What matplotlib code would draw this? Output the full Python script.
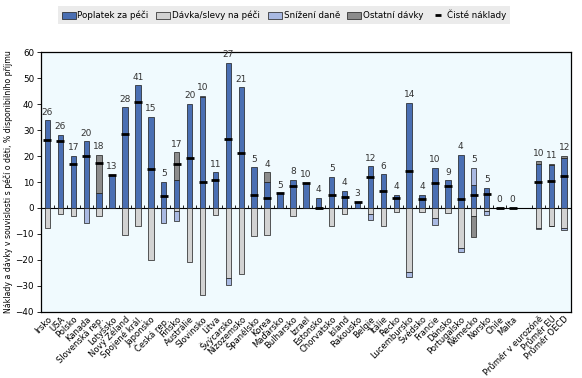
import numpy as np
import matplotlib
matplotlib.use("Agg")
import matplotlib.pyplot as plt
from matplotlib.patches import Patch
from matplotlib.lines import Line2D

# categories (countries, then averages after a gap)
countries = ["Irsko", "USA", "Polsko", "Kanada", "Slovenská rep.", "Lotyšsko",
             "Nový Zéland", "Spojené král.", "Japonsko", "Česká rep.", "Finsko",
             "Austrálie", "Slovinsko", "Litva", "Švýcarsko", "Nizozemsko",
             "Španělsko", "Korea", "Maďarsko", "Bulharsko", "Izrael", "Estonsko",
             "Chorvatsko", "Island", "Rakousko", "Belgie", "Itálie", "Řecko",
             "Lucembursko", "Švédsko", "Francie", "Dánsko", "Portugalsko",
             "Německo", "Norsko", "Chile", "Malta"]
averages = ["Průměr v eurozóně", "Průměr EU", "Průměr OECD"]

# Poplatek za péči (fees)
fee = [33.7, 28.0, 19.9, 25.6, 5.6, 12.8, 38.7, 47.2, 34.9, 9.9, 10.9,
       40.0, 42.7, 13.7, 56.0, 46.4, 15.6, 9.9, 5.6, 10.9, 9.7, 3.8,
       11.8, 6.4, 2.4, 16.0, 12.9, 4.9, 40.6, 4.9, 15.3, 10.6, 20.3,
       8.7, 7.6, 0.0, 0.0,
       17.1, 16.7, 19.2]
# Dávky/slevy na péči
benefit = [-7.7, -2.3, -3.2, 0.0, -3.2, 0.0, -10.5, -6.8, -20.1, 0.0, -1.0,
           -20.9, -33.5, -2.8, -26.9, -25.6, -10.9, -10.4, 0.0, -3.2, 0.0, 0.0,
           -7.1, -2.3, 0.0, -2.2, -7.1, -1.5, -24.6, -1.7, -4.0, -2.0, -15.5,
           -3.2, -1.2, 0.0, 0.0,
           -7.9, -6.8, -7.7]
# Snížení daně
tax = [0.0, 0.0, 0.0, -5.7, 0.0, 0.0, 0.0, 0.0, 0.0, -5.8, -4.1,
       0.0, 0.5, 0.0, -2.8, 0.0, 0.0, 0.0, 0.0, 0.0, 0.0, 0.0,
       0.0, 0.0, 0.0, -2.5, 0.0, 0.0, -2.1, 0.0, -2.4, 0.0, -1.5,
       6.6, -1.5, 0.0, 0.0,
       -0.3, -0.2, -0.6]
# Ostatní dávky
other = [0.0, 0.0, 0.0, 0.0, 14.7, 0.0, 0.0, 0.0, 0.0, 0.0, 10.5,
         0.0, 0.0, 0.0, 0.0, 0.0, 0.0, 3.8, 0.0, 0.0, 0.0, 0.0,
         0.0, 0.0, 0.0, 0.0, 0.0, 0.0, 0.0, 0.0, 0.0, 0.0, 0.0,
         -8.1, 0.0, 0.0, 0.0,
         0.8, 0.3, 0.9]
# Čisté náklady
net = [26.3, 25.9, 17.0, 20.1, 17.3, 12.8, 28.5, 41.0, 15.1, 4.7, 17.0,
       19.4, 10.0, 10.9, 26.7, 21.3, 5.1, 4.0, 5.6, 8.6, 9.7, 0.0,
       5.1, 4.2, 2.4, 11.8, 6.4, 4.0, 14.4, 3.6, 9.7, 8.6, 3.6,
       4.9, 5.5, 0.0, 0.0,
       10.1, 10.5, 12.4]
net_labels = ["26", "26", "17", "20", "18", "13", "28", "41", "15", "5", "17",
              "20", "10", "11", "27", "21", "5", "4", "5", "8", "10", "4",
              "5", "4", "3", "12", "6", "4", "14", "4", "10", "9", "4",
              "5", "5", "0", "0",
              "10", "11", "12"]

c_fee = "#4a6fb3"
c_ben = "#d2d2d2"
c_tax = "#a9b9e2"
c_oth = "#8c8c8c"

names = countries + averages
x = np.r_[np.arange(len(countries)), np.arange(len(averages)) + len(countries) + 1]
fee, benefit, tax, other, net = map(np.array, (fee, benefit, tax, other, net))

fig = plt.figure(figsize=(5.82, 3.78), dpi=100)
ax = fig.add_axes([0.0705, 0.175, 0.91, 0.687])
ax.set_facecolor("#f0fafe")

w = 0.42
kw = dict(width=w, edgecolor="#1a1a1a", linewidth=0.5, zorder=3)

# positive stack
pos_bottom = np.zeros(len(x))
neg_bottom = np.zeros(len(x))
for vals, col in [(fee, c_fee), (np.clip(other, 0, None), c_oth), (np.clip(tax, 0, None), c_tax)]:
    m = vals > 0
    ax.bar(x[m], vals[m], bottom=pos_bottom[m], color=col, **kw)
    pos_bottom += vals
for vals, col in [(benefit, c_ben), (np.clip(tax, None, 0), c_tax), (np.clip(other, None, 0), c_oth)]:
    m = vals < 0
    ax.bar(x[m], vals[m], bottom=neg_bottom[m], color=col, **kw)
    neg_bottom += vals

ax.plot(x, net, ls="none", marker="_", ms=5.5, mew=2, color="black", zorder=4)

for xi, top, lab in zip(x, pos_bottom, net_labels):
    ax.text(xi, top + 1.5, lab, ha="center", va="bottom", fontsize=6.5, color="#333333")

# zero line with small ticks between categories
ax.axhline(0, color="black", lw=0.8, zorder=2)
bounds = np.r_[x - 0.5, x[-1] + 0.5]
ax.vlines(bounds, 0, 1.0, color="black", lw=0.6, zorder=2)

ax.set_xlim(-0.5, x[-1] + 0.5)
ax.set_ylim(-40, 60)
ax.set_yticks(np.arange(-40, 61, 10))
ax.set_xticks(x)
ax.set_xticklabels(names, rotation=45, ha="right", rotation_mode="anchor", fontsize=6)
ax.tick_params(axis="x", length=0, pad=2)
ax.tick_params(axis="y", labelsize=6.3, length=3, width=0.6, pad=2)
for s in ax.spines.values():
    s.set_linewidth(0.9)
ax.set_ylabel("Náklady a dávky v souvislosti s péčí o děti, % disponibilního příjmu",
              fontsize=5.6, labelpad=2)

handles = [Patch(facecolor=c_fee, edgecolor="#1a1a1a", lw=0.5),
           Patch(facecolor=c_ben, edgecolor="#1a1a1a", lw=0.5),
           Patch(facecolor=c_tax, edgecolor="#1a1a1a", lw=0.5),
           Patch(facecolor=c_oth, edgecolor="#1a1a1a", lw=0.5),
           Line2D([], [], ls="none", marker="_", ms=4, mew=2, color="black")]
labels = ["Poplatek za péči", "Dávka/slevy na péči", "Snížení daně", "Ostatní dávky", "Čisté náklady"]
leg = fig.legend(handles, labels, loc="center", ncol=5, fontsize=6.3,
                 bbox_to_anchor=(0.1, 0.929, 0.776, 0.063), mode="expand",
                 frameon=True, fancybox=False, handlelength=1.6, handleheight=0.9,
                 handletextpad=0.2, borderaxespad=0, columnspacing=1.0)
leg.get_frame().set_facecolor("#e6e6e6")
leg.get_frame().set_edgecolor("none")

fig.savefig("out.png", dpi=100)
